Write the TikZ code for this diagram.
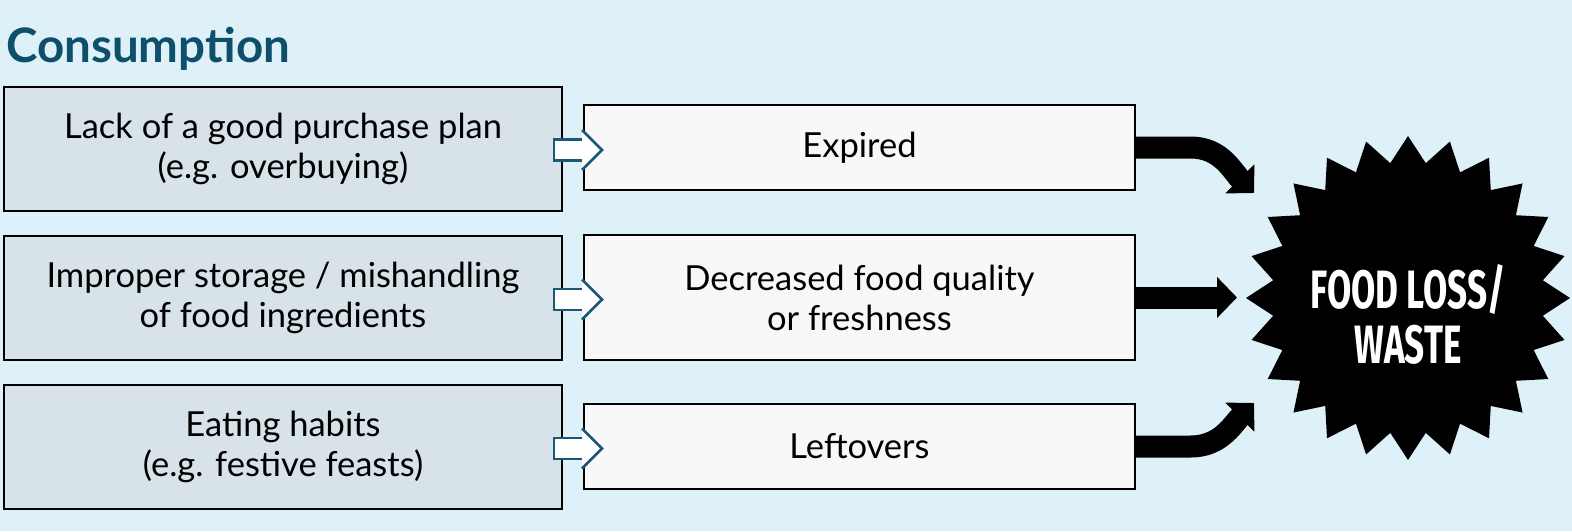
\documentclass[tikz,border=0pt]{standalone}
\usepackage{fontspec}
\setmainfont{Lato}
\newfontfamily\headfont{Lato}
\newfontfamily\burstfont{Fira Sans}
\usepackage{tikz}
\usetikzlibrary{arrows.meta}

\definecolor{bgblue}{RGB}{223,241,248}
\definecolor{causefill}{RGB}{215,227,233}
\definecolor{effectfill}{RGB}{248,248,248}
\definecolor{headteal}{RGB}{14,80,108}
\definecolor{arrowteal}{RGB}{26,88,118}

\begin{document}
\begin{tikzpicture}[x=1pt,y=1pt,yscale=-1,xscale=1,
    causebox/.style={draw=black,line width=2pt,fill=causefill,minimum width=558pt,minimum height=124pt,inner sep=0pt,align=center,font=\fontsize{34.5}{40}\selectfont},
    effectbox/.style={draw=black,line width=1.5pt,fill=effectfill,minimum width=551pt,inner sep=0pt,align=center,font=\fontsize{34.5}{40}\selectfont},
    bigarrow/.style={line width=22pt,-{Triangle[length=20pt,width=40pt]}},
    smallarrow/.style={draw=arrowteal,line width=2.5pt,fill=white}]
    %set diagram to the size of the reference
    \fill [bgblue] (0,0) rectangle (1572,531);
    \useasboundingbox (0,0) rectangle (1572,531);

    % Text Node
    \node [anchor=base west,inner sep=0pt,text=headteal,font=\headfont\bfseries\fontsize{47.5}{50}\selectfont] (title) at (6,62) {Consumption};

    % Cause boxes
    \node [causebox] (c1) at (283,148.5) {Lack of a good purchase plan\\(e.g. overbuying)};
    \node [causebox] (c2) at (283,298) {Improper storage / mishandling\\of food ingredients};
    \node [causebox] (c3) at (283,447) {Eating habits\\(e.g. festive feasts)};

    % Effect boxes
    \node [effectbox,minimum height=85pt] (e1) at (859.5,147.5) {Expired};
    \node [effectbox,minimum height=125pt] (e2) at (859.5,297.5) {Decreased food quality\\or freshness};
    \node [effectbox,minimum height=85pt] (e3) at (859.5,446.5) {Leftovers};

    % Block arrows
    \foreach \r in {1,2,3}{
      \begin{scope}[shift={(c\r.east)},yshift=1.5pt]
        \fill [white] (-9,-10.5) -- (19,-10.5) -- (19,-20) -- (39,0) -- (19,20) -- (19,10.5) -- (-9,10.5) -- cycle;
        \draw [smallarrow,fill=none] (19,-10.5) -- (-9,-10.5) -- (-9,10.5) -- (19,10.5);
        \draw [smallarrow,fill=none] (19,-20) -- (39,0) -- (19,20);
      \end{scope}
    }

    % Starburst
    \coordinate (waste) at (1408,298);
    \fill [black,shift={(waste)}] plot [samples=49,domain=0:48,variable=\t] ({90+7.5*\t}:{149+13*cos(180*\t)}) -- cycle;
    \node [text=white,align=center,inner sep=0pt,font=\burstfont\bfseries\fontsize{54}{55}\selectfont] (wastetext) at (1408,314) {\scalebox{0.65}[1]{FOOD LOSS/}\\\scalebox{0.65}[1]{WASTE}};

    % Arrow ends
    \coordinate (t1) at (1254,193);
    \coordinate (t2) at (1237,297.5);
    \coordinate (t3) at (1254,403);

    %Big arrows
    \draw [bigarrow] (e1.east) -- ++(55,0) to [out=0,in=-135] (t1);
    \draw [bigarrow] (e2.east) -- (t2);
    \draw [bigarrow] (e3.east) -- ++(55,0) to [out=0,in=135] (t3);
\end{tikzpicture}
\end{document}
